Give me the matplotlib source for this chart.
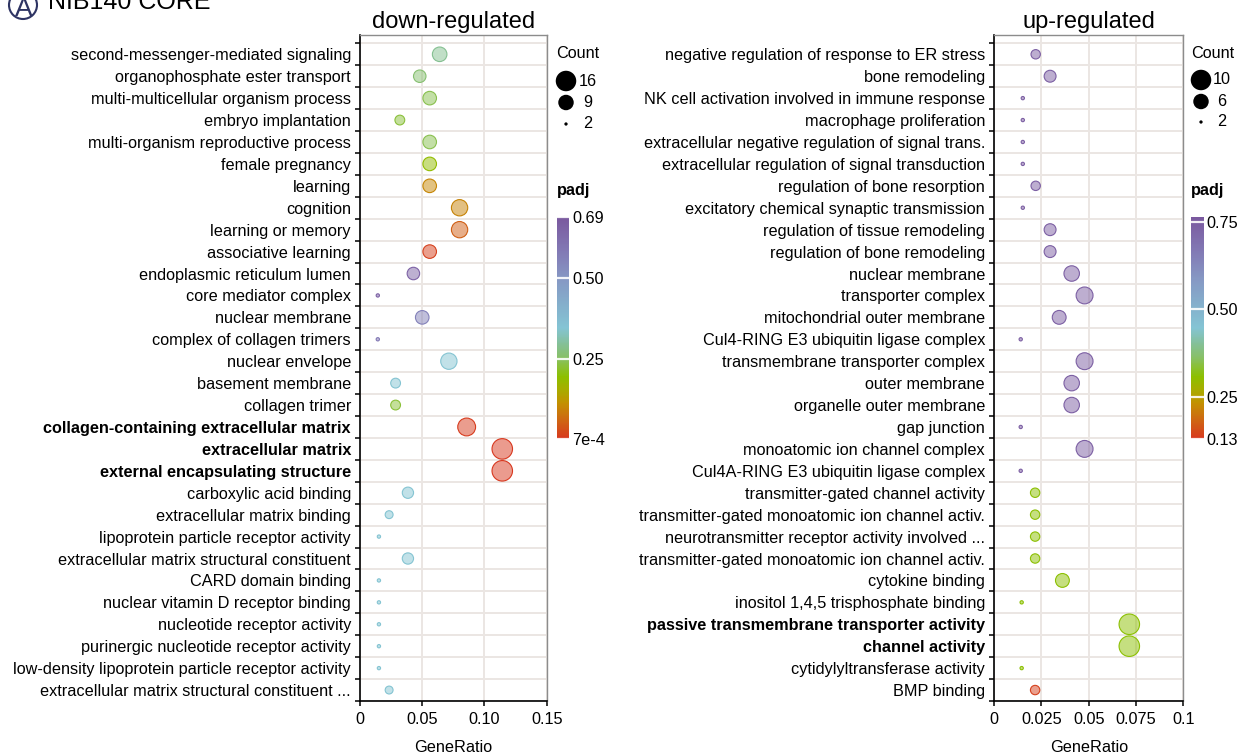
import numpy as np
import matplotlib

matplotlib.use("Agg")
import matplotlib.pyplot as plt
from matplotlib.colors import LinearSegmentedColormap, Normalize, to_rgba
from matplotlib.cm import ScalarMappable
from matplotlib.patches import Circle

plt.rcParams["font.family"] = ["Liberation Sans", "DejaVu Sans"]

# ---- data: down-regulated ----
down_terms = [
    "second-messenger-mediated signaling", "organophosphate ester transport",
    "multi-multicellular organism process", "embryo implantation",
    "multi-organism reproductive process", "female pregnancy", "learning",
    "cognition", "learning or memory", "associative learning",
    "endoplasmic reticulum lumen", "core mediator complex", "nuclear membrane",
    "complex of collagen trimers", "nuclear envelope", "basement membrane",
    "collagen trimer", "collagen-containing extracellular matrix",
    "extracellular matrix", "external encapsulating structure",
    "carboxylic acid binding", "extracellular matrix binding",
    "lipoprotein particle receptor activity",
    "extracellular matrix structural constituent", "CARD domain binding",
    "nuclear vitamin D receptor binding", "nucleotide receptor activity",
    "purinergic nucleotide receptor activity",
    "low-density lipoprotein particle receptor activity",
    "extracellular matrix structural constituent ...",
]
down_ratio = [0.064, 0.048, 0.056, 0.032, 0.056, 0.056, 0.056, 0.080, 0.080, 0.056,
              0.0429, 0.0143, 0.050, 0.0143, 0.0714, 0.0286, 0.0286, 0.0857, 0.1143, 0.1143,
              0.0385, 0.0234, 0.0152, 0.0385, 0.0152, 0.0152, 0.0152, 0.0152, 0.0152, 0.0234]
down_count = [8, 6, 7, 4, 7, 7, 7, 10, 10, 7,
              6, 2, 7, 2, 10, 4, 4, 12, 16, 16,
              5, 3, 2, 5, 2, 2, 2, 2, 2, 3]
down_padj = [0.29, 0.262, 0.24, 0.228, 0.24, 0.185, 0.10, 0.095, 0.05, 0.014,
             0.655, 0.655, 0.56, 0.585, 0.345, 0.345, 0.225, 0.008, 0.001, 0.001,
             0.345, 0.345, 0.345, 0.345, 0.345, 0.345, 0.345, 0.345, 0.345, 0.345]
down_bold = ["collagen-containing extracellular matrix", "extracellular matrix",
             "external encapsulating structure"]

# ---- data: up-regulated ----
up_terms = [
    "negative regulation of response to ER stress", "bone remodeling",
    "NK cell activation involved in immune response", "macrophage proliferation",
    "extracellular negative regulation of signal trans.",
    "extracellular regulation of signal transduction",
    "regulation of bone resorption", "excitatory chemical synaptic transmission",
    "regulation of tissue remodeling", "regulation of bone remodeling",
    "nuclear membrane", "transporter complex", "mitochondrial outer membrane",
    "Cul4-RING E3 ubiquitin ligase complex", "transmembrane transporter complex",
    "outer membrane", "organelle outer membrane", "gap junction",
    "monoatomic ion channel complex", "Cul4A-RING E3 ubiquitin ligase complex",
    "transmitter-gated channel activity",
    "transmitter-gated monoatomic ion channel activ.",
    "neurotransmitter receptor activity involved ...",
    "transmitter-gated monoatomic ion channel activ.", "cytokine binding",
    "inositol 1,4,5 trisphosphate binding",
    "passive transmembrane transporter activity", "channel activity",
    "cytidylyltransferase activity", "BMP binding",
]
up_ratio = [0.022, 0.0296, 0.0152, 0.0152, 0.0152, 0.0152, 0.022, 0.0152, 0.0296, 0.0296,
            0.041, 0.0478, 0.0344, 0.0141, 0.0478, 0.041, 0.041, 0.0141, 0.0478, 0.0141,
            0.0217, 0.0217, 0.0217, 0.0217, 0.0361, 0.0146, 0.0714, 0.0714, 0.0146, 0.0217]
up_count = [3, 4, 2, 2, 2, 2, 3, 2, 4, 4,
            6, 7, 5, 2, 7, 6, 6, 2, 7, 2,
            3, 3, 3, 3, 5, 2, 10, 10, 2, 3]
up_padj = [0.745] * 20 + [0.31] * 9 + [0.14]
up_bold = ["passive transmembrane transporter activity", "channel activity"]

cmap = LinearSegmentedColormap.from_list("padj", [
    (0.00, "#D8381F"), (0.08, "#CF6414"), (0.16, "#C39000"), (0.22, "#A8AC00"),
    (0.28, "#8CC000"), (0.36, "#88C060"), (0.43, "#84C09A"), (0.50, "#84C4D4"),
    (0.60, "#84B0CC"), (0.72, "#8698C4"), (0.85, "#8278B4"), (1.00, "#7A589E"),
])

W, H = 1246, 755
fig = plt.figure(figsize=(W / 100, H / 100), dpi=100)
FS = 11.7
GRID = "#EBE6E3"


def px_box(x0, y0, x1, y1):
    return [x0 / W, 1 - y1 / H, (x1 - x0) / W, (y1 - y0) / H]


def diam_pt(c, cmax):
    d_px = 3.3 + np.sqrt((np.asarray(c, float) - 2) / (cmax - 2)) * (20.5 - 3.3)
    return d_px * 0.72


def panel(box, terms, ratio, count, padj, bold, xmax, xticks, xlabels, vmin, vmax, title):
    ax = fig.add_axes(px_box(*box))
    n = len(terms)
    y = np.arange(n)
    norm = Normalize(vmin, vmax)
    cols = cmap(norm(padj))
    face = [to_rgba(c, 0.5) for c in cols]
    ax.scatter(ratio, y, s=diam_pt(count, max(count)) ** 2, facecolors=face,
               edgecolors=cols, linewidths=0.8, zorder=3)
    ax.set_xlim(0, xmax)
    ax.set_ylim(n - 0.5, -0.88)
    ax.set_xticks(xticks)
    ax.set_xticklabels(xlabels, fontsize=FS)
    ax.set_yticks(y)
    ax.set_yticklabels(terms, fontsize=FS)
    for lab in ax.get_yticklabels():
        if lab.get_text() in bold:
            lab.set_fontweight("bold")
    ax.set_yticks(np.arange(-0.5, n), minor=True)
    ax.tick_params(axis="y", which="major", length=0, pad=6.5)
    ax.tick_params(axis="y", which="minor", length=3.6, width=1.1, color="black")
    ax.tick_params(axis="x", length=3.6, width=1.1, pad=4.5, colors="black")
    ax.grid(True, axis="x", which="major", color=GRID, lw=1.4, zorder=0)
    ax.grid(True, axis="y", which="minor", color=GRID, lw=1.4, zorder=0)
    ax.set_axisbelow(True)
    for s in ("left", "bottom"):
        ax.spines[s].set_color("black")
        ax.spines[s].set_linewidth(1.2)
    for s in ("top", "right"):
        ax.spines[s].set_color("#8C8C8C")
        ax.spines[s].set_linewidth(1.0)
    ax.set_xlabel("GeneRatio", fontsize=FS, labelpad=9)
    ax.set_title(title, fontsize=17, pad=5)
    return norm


norm_d = panel((360, 35, 546.7, 701), down_terms, down_ratio, down_count, down_padj,
               down_bold, 0.15, [0, 0.05, 0.10, 0.15], ["0", "0.05", "0.10", "0.15"],
               7e-4, 0.69, "down-regulated")
norm_u = panel((994, 35, 1183.5, 701), up_terms, up_ratio, up_count, up_padj,
               up_bold, 0.1, [0, 0.025, 0.05, 0.075, 0.1], ["0", "0.025", "0.05", "0.075", "0.1"],
               0.13, 0.765, "up-regulated")

# overlay in pixel coordinates for legends and header
ov = fig.add_axes([0, 0, 1, 1])
ov.set_xlim(0, W)
ov.set_ylim(H, 0)
ov.axis("off")


def count_legend(x, lab_x, counts, cmax, ys):
    ov.text(x - 10, 53, "Count", fontsize=FS, va="center", ha="left")
    ov.scatter([x] * len(counts), ys, s=diam_pt(counts, cmax) ** 2, color="black", lw=0)
    for c, yy in zip(counts, ys):
        ov.text(lab_x, yy, str(c), fontsize=FS, va="center", ha="center")


count_legend(566, 588, [16, 9, 2], 16, [81, 102.5, 124])
count_legend(1201, 1222, [10, 6, 2], 10, [80, 101.5, 122])


def colorbar(x0, norm, ticks, labels):
    ov.text(x0, 190, "padj", fontsize=FS, fontweight="bold", va="center", ha="left")
    cax = fig.add_axes(px_box(x0, 216.7, x0 + 12.6, 439))
    cb = fig.colorbar(ScalarMappable(norm=norm, cmap=cmap), cax=cax)
    cb.outline.set_visible(False)
    cb.set_ticks(ticks)
    cb.set_ticklabels(labels)
    cax.tick_params(length=0, pad=2, labelsize=FS)
    for t in ticks:
        cax.axhline(t, color="white", lw=1.6, alpha=0.9)


colorbar(556.7, norm_d, [7e-4, 0.25, 0.5, 0.69], ["7e-4", "0.25", "0.50", "0.69"])
colorbar(1191, norm_u, [0.13, 0.25, 0.5, 0.75], ["0.13", "0.25", "0.50", "0.75"])

# header (cut off at the top edge, as in the source figure)
ov.add_patch(Circle((23, 5), 14, fill=False, ec="#2E3463", lw=1.5))
ov.text(24, 16, "A", fontsize=19, color="#2E3463", ha="center", va="baseline")
ov.text(48, 9, "NIB140 CORE", fontsize=18, color="black", ha="left", va="baseline")

fig.savefig("out.png", dpi=100)
